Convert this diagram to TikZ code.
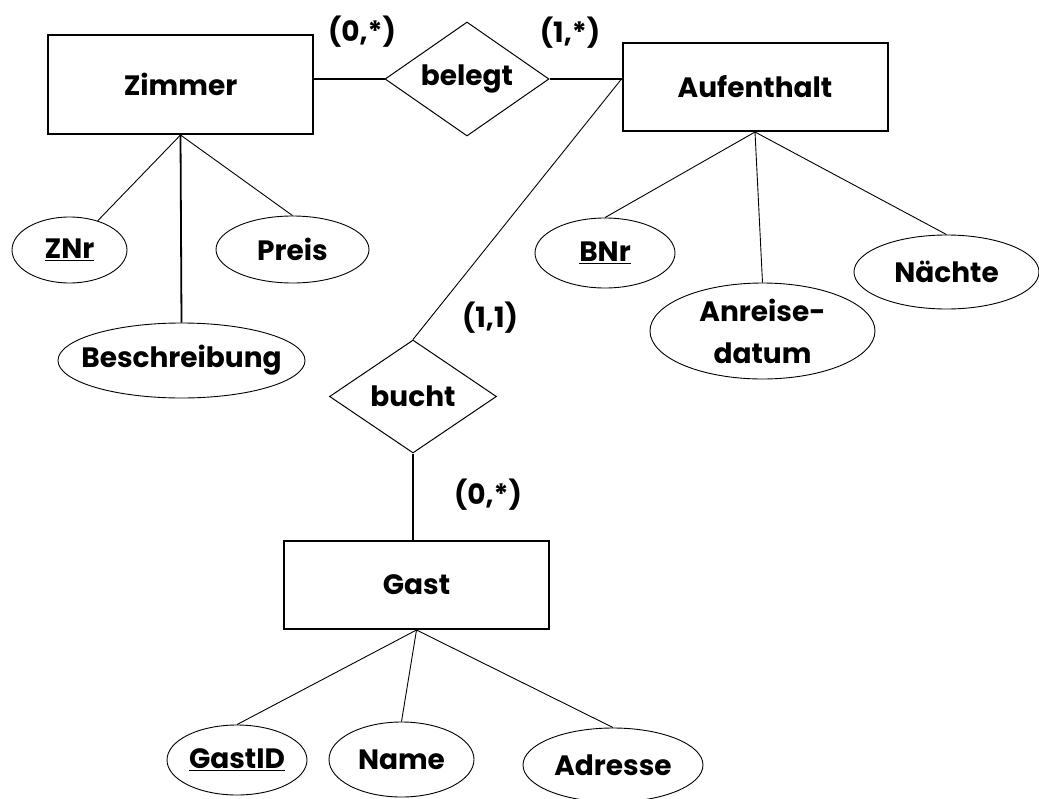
\documentclass[tikz,border=0pt]{standalone}
\usepackage{fontspec}
\setmainfont{Poppins}
\usetikzlibrary{shapes.geometric}

% text that does not widen its shape
\newcommand{\nw}[1]{\makebox[0pt]{#1}}

\begin{document}
\begin{tikzpicture}[x=1pt,y=-1pt,
  every node/.style={font=\fontsize{28}{42}\selectfont\bfseries, inner sep=0pt},
  entity/.style={draw, rectangle, line width=2pt, minimum width=265pt},
  relation/.style={draw, diamond, line width=1pt},
  attr/.style={draw, ellipse, line width=0.9pt},
  link/.style={line width=0.9pt},
  hard/.style={line width=1.8pt}]
\useasboundingbox (0,0) rectangle (1039,798);
% entities
\node [entity, minimum height=99pt] (zimmer) at (180.5,84.5) {Zimmer};
\node [entity, minimum height=88pt] (aufenthalt) at (755,87) {Aufenthalt};
\node [entity, minimum height=88pt] (gast) at (416.5,585) {Gast};
% relations
\node [relation, minimum width=164pt, minimum height=114pt] (belegt) at (467,79) {\nw{belegt}};
\node [relation, minimum width=167pt, minimum height=113pt] (bucht) at (413,396.5) {\nw{bucht}};
% attributes
\node [attr, minimum width=115pt, minimum height=66pt] (znr) at (69.5,250) {\nw{\underline{ZNr}}};
\node [attr, minimum width=153pt, minimum height=67pt] (preis) at (292.5,249.5) {\nw{Preis}};
\node [attr, minimum width=247pt, minimum height=75pt] (beschreibung) at (181.5,360.5) {\nw{Beschreibung}};
\node [attr, minimum width=140pt, minimum height=70pt] (bnr) at (605,253) {\nw{\underline{BNr}}};
\node [attr, minimum width=225pt, minimum height=96pt, align=center] (anreise) at (762.5,331) {\nw{Anreise-}\\\nw{datum}};
\node [attr, minimum width=185pt, minimum height=74pt] (naechte) at (946.5,272) {\nw{Nächte}};
\node [attr, minimum width=140pt, minimum height=70pt] (gastid) at (237,760) {\nw{\underline{GastID}}};
\node [attr, minimum width=145pt, minimum height=75pt] (name) at (401.5,759.5) {\nw{Name}};
\node [attr, minimum width=180pt, minimum height=74pt] (adresse) at (613,765) {\nw{Adresse}};
% cardinalities
\node (cz) at (362,32) {(0,*)};
\node (ca) at (570,33) {(1,*)};
\node (cb) at (490,318) {(1,1)};
\node (cg) at (488,495) {(0,*)};
% connectors
\draw [hard] (belegt.west -| zimmer.east) -- (belegt.west);
\draw [hard] (belegt.east) -- (belegt.east -| aufenthalt.west);
\draw [link] (belegt.east -| aufenthalt.west) -- (bucht.north);
\draw [hard] (bucht.south) -- (bucht.south |- gast.north);
\draw [link] (zimmer.south) -- (znr);
\draw [link] (zimmer.south) -- (preis.north);
\draw [hard] (zimmer.south) -- (beschreibung.north);
\draw [link] (aufenthalt.south) -- (bnr.north);
\draw [link] (aufenthalt.south) -- (anreise.north);
\draw [link] (aufenthalt.south) -- (naechte.north);
\draw [link] (gast.south) -- (gastid.north);
\draw [link] (gast.south) -- (name.north);
\draw [link] (gast.south) -- (adresse.north);
\end{tikzpicture}
\end{document}
